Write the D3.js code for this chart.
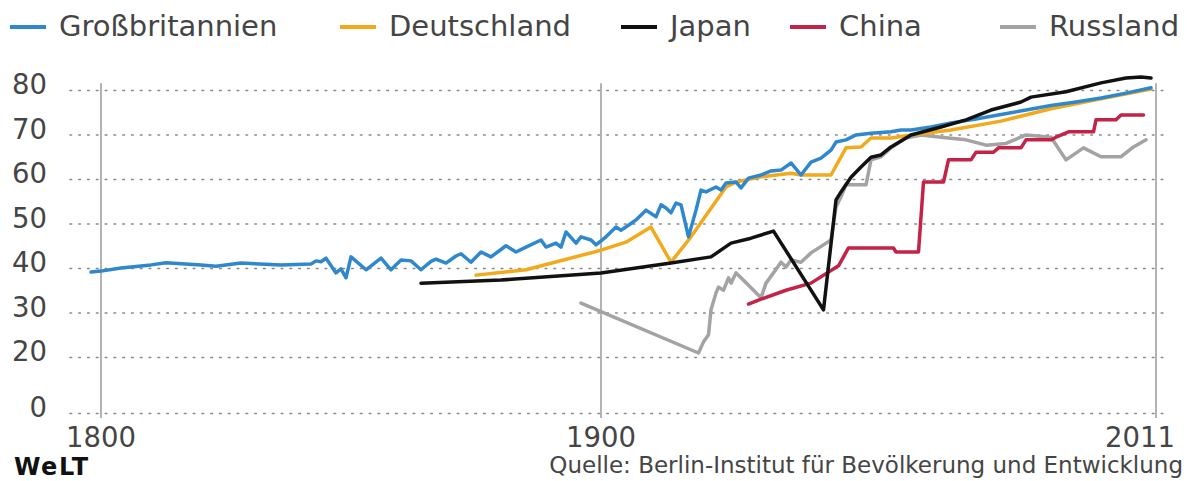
<!DOCTYPE html>
<html>
<head>
<meta charset="utf-8">
<script src="https://cdn.jsdelivr.net/npm/d3@7"></script>
<style>
  body { margin: 0; background: #fff; }
  svg { display: block; font-family: "DejaVu Sans", Lato, sans-serif; }
  .grid line { stroke: #888; stroke-width: 1.6; stroke-dasharray: 1.6, 7.2; stroke-linecap: round; }
  .vline { stroke: #9a9a9a; stroke-width: 1.5; }
  .line { fill: none; stroke-width: 3.5; stroke-linejoin: round; stroke-linecap: round; }
  .lbl { fill: #454545; font-size: 27.5px; }
</style>
</head>
<body>
<div id="chart"></div>
<script>
// Global Variables
var names = ['Großbritannien', 'Deutschland', 'Japan', 'China', 'Russland'];
var color = ['#2f88cc', '#f2a91c', '#111111', '#c42348', '#a3a3a3'];

var yTicks = [0, 20, 30, 40, 50, 60, 70, 80];
var xTicks = [1800, 1900, 2011];

// life expectancy, [year, value]
var gbData = [[1798,39.1],[1800,39.3],[1804,40.0],[1810,40.7],[1813,41.2],[1820,40.7],[1823,40.4],
  [1828,41.1],[1836,40.7],[1842,40.9],[1843,41.6],[1844,41.4],[1845,42.2],[1847,38.9],[1848,39.8],
  [1849,37.8],[1850,42.5],[1853,39.6],[1856,42.2],[1858,39.6],[1860,41.8],[1862,41.6],[1864,39.6],
  [1866,41.5],[1867,42],[1869,41.1],[1871,42.7],[1872,43.2],[1874,41.3],[1876,43.6],[1878,42.5],
  [1881,45],[1883,43.6],[1885,44.7],[1888,46.3],[1889,44.7],[1891,45.6],[1892,44.7],[1893,48.1],
  [1895,45.6],[1896,47],[1898,46.3],[1899,45.2],[1901,47],[1903,49.2],[1904,48.5],[1906,50],
  [1907,50.8],[1909,53],[1911,51.5],[1912,54.2],[1913,53.5],[1914,52.4],[1915,54.6],[1916,54.2],
  [1917.5,47],[1919,53],[1920,57.5],[1921,57.1],[1923,58.2],[1924,57.5],[1925,59.1],[1927,59.3],
  [1928,58],[1929.5,60.2],[1932,60.9],[1934,61.8],[1936,62],[1938,63.6],[1940,60.9],[1942,63.8],
  [1944,64.7],[1946,66.5],[1947,68.3],[1949,68.8],[1951,69.9],[1954,70.3],[1958,70.6],[1960,71],
  [1962,71],[1966,71.7],[1970,72.6],[1975,73.5],[1980,74.5],[1985,75.5],[1990,76.5],[1995,77.3],
  [2000,78.2],[2005,79.3],[2010,80.5]];

var deData = [[1875,38.4],[1885,39.6],[1900,44],[1905,45.8],[1910,49.2],[1914,41.3],[1918,47],
  [1925,58.2],[1927,59.3],[1932,60.5],[1938,61.3],[1940,60.9],[1946,60.9],[1949,67],[1952,67.2],
  [1954,69.2],[1958,69.2],[1962,69.9],[1970,71],[1980,73],[1990,75.8],[2000,78],[2010,80.2]];

var jpData = [[1864,36.6],[1880,37.3],[1900,38.9],[1914,41.1],[1922,42.5],[1926,45.6],[1930,46.7],
  [1934.5,48.3],[1944.5,30.6],[1947,55.3],[1948,57.1],[1950,60.4],[1952,62.7],[1954,64.9],
  [1956,65.4],[1958,67.2],[1962,69.9],[1968,71.7],[1973,73.3],[1978,75.5],[1984,77.3],[1986,78.4],
  [1993,79.6],[2000,81.6],[2005,82.7],[2008,82.9],[2010,82.7]];

var cnData = [[1929.5,31.9],[1932,33],[1937,35],[1942,36.6],[1947.5,40.5],[1949.5,44.5],
  [1958.5,44.5],[1959,43.6],[1963.5,43.6],[1964.5,59.3],[1968.5,59.3],[1969.5,64.3],[1974,64.3],
  [1975,66],[1978.5,66],[1979.5,67],[1984,67],[1985,68.8],[1990,68.8],[1991,69.4],[1993.5,70.6],
  [1998.5,70.6],[1999,73.3],[2003,73.3],[2004,74.4],[2008.5,74.4]];

var ruData = [[1896,32.1],[1919.5,20.9],[1920.5,23.4],[1921.5,25],[1922,30.6],[1923,34.4],
  [1923.5,35.7],[1924.5,35],[1925.5,37.8],[1926,36.6],[1927,38.9],[1928,37.8],[1932,33.3],
  [1933,36.6],[1934.5,38.9],[1936,41.3],[1937,40.2],[1938,41.8],[1940,41.3],[1942,43.4],
  [1946,46.3],[1947,53.7],[1948,56],[1949,58.7],[1953,58.7],[1954,64.3],[1956,65],[1958,67],
  [1961,69.2],[1964,69.9],[1968,69.4],[1973,68.8],[1977,67.6],[1981,68],[1985,69.9],[1990,69.4],
  [1993,64.3],[1996.5,67],[2000,65],[2004,65],[2006.5,67.2],[2009,68.8]];

var source = 'Quelle: Berlin-Institut für Bevölkerung und Entwicklung';

// Functions
function makeChart() {
    var width = 1187, height = 481;

    // Set the ranges (axis is broken between 0 and 20)
    var x = d3.scaleLinear().domain([1800, 2011]).range([101, 1156]);
    var y = d3.scaleLinear().domain([0, 20, 80]).range([413, 357, 90]);

    var svg = d3.select('#chart')
        .append('svg')
            .attr('width', width)
            .attr('height', height);

    // Dotted grid
    var yAxis = d3.axisLeft(y)
        .tickValues(yTicks)
        .tickSize(-(1164 - 70))
        .tickFormat('');
    svg.append('g')
        .attr('class', 'grid')
        .attr('transform', 'translate(70,0)')
        .call(yAxis)
        .call(function(g) { g.select('.domain').remove(); });

    // Vertical year lines
    svg.selectAll('.vline')
        .data(xTicks)
        .enter().append('line')
            .attr('class', 'vline')
            .attr('x1', function(d) { return x(d); })
            .attr('x2', function(d) { return x(d); })
            .attr('y1', y(81.5))
            .attr('y2', y(0) + 5);

    // Y labels
    svg.selectAll('.ylbl')
        .data(yTicks)
        .enter().append('text')
            .attr('class', 'lbl')
            .attr('x', 47)
            .attr('y', function(d) { return y(d) + 4; })
            .style('text-anchor', 'end')
            .text(function(d) { return d; });

    // X labels
    svg.selectAll('.xlbl')
        .data(xTicks)
        .enter().append('text')
            .attr('class', 'lbl')
            .attr('x', function(d, i) { return i == 2 ? x(d) + 19 : x(d); })
            .attr('y', 447)
            .style('text-anchor', function(d, i) { return i == 2 ? 'end' : 'middle'; })
            .text(function(d) { return d; });

    // Define the line
    var valueline = d3.line()
        .x(function(d) { return x(d[0]); })
        .y(function(d) { return y(d[1]); });

    // Add the lines (drawing order: grey, red, orange, blue, black)
    var series = [gbData, deData, jpData, cnData, ruData];
    [4, 3, 1, 0, 2].forEach(function(i) {
        svg.append('path')
            .attr('class', 'line')
            .style('stroke', color[i])
            .attr('d', valueline(series[i]));
    });

    // Legend
    var legX = [10, 340, 621, 790, 1000];
    var leg = svg.selectAll('.leg')
        .data(names)
        .enter().append('g')
            .attr('transform', function(d, i) { return 'translate(' + legX[i] + ',0)'; });
    leg.append('line')
        .attr('x1', 0).attr('x2', 36)
        .attr('y1', 27).attr('y2', 27)
        .style('stroke', function(d, i) { return color[i]; })
        .style('stroke-width', 3.8);
    leg.append('text')
        .attr('class', 'lbl')
        .attr('x', 49)
        .attr('y', 36)
        .style('font-size', '29px')
        .text(function(d) { return d; });

    // Footer
    svg.append('text')
        .attr('x', 14)
        .attr('y', 475)
        .style('font-size', '24px')
        .style('font-weight', 'bold')
        .style('letter-spacing', '1.5px')
        .style('fill', '#111')
        .text('WeLT');
    svg.append('text')
        .attr('class', 'lbl')
        .attr('x', 1183)
        .attr('y', 473)
        .style('font-size', '23px')
        .style('text-anchor', 'end')
        .text(source);
}

makeChart();
</script>
</body>
</html>
